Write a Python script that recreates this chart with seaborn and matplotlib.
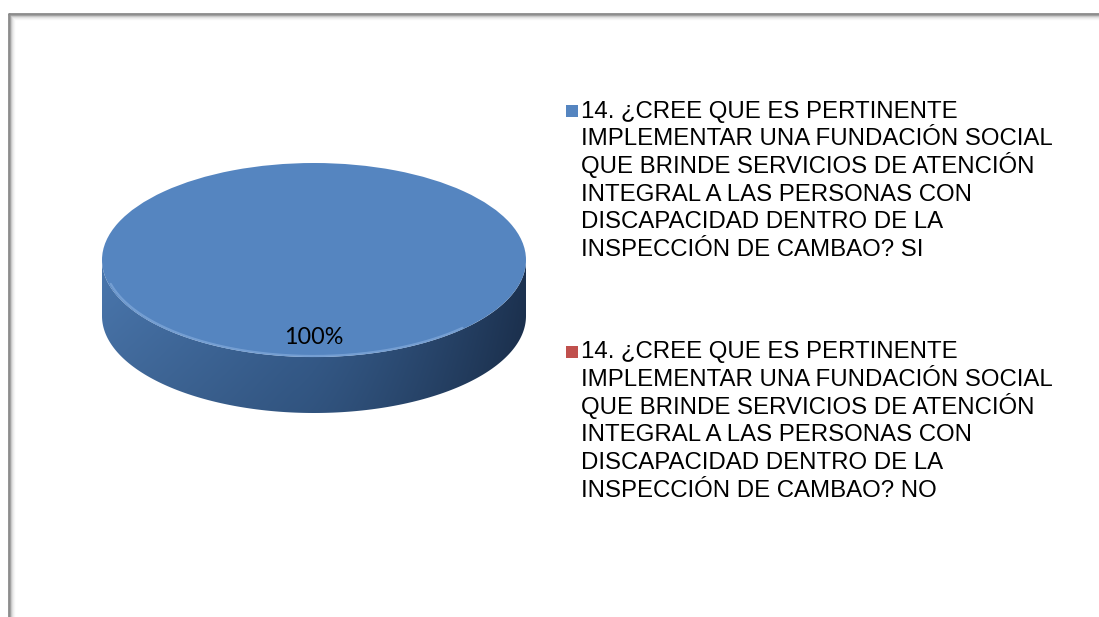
import textwrap
import numpy as np
import matplotlib
matplotlib.use("Agg")
import matplotlib.pyplot as plt
import seaborn as sns
from matplotlib.patches import Polygon, Rectangle
from matplotlib.lines import Line2D

# datos de la pregunta 14
pregunta = ("14. ¿CREE QUE ES PERTINENTE IMPLEMENTAR UNA FUNDACIÓN SOCIAL "
            "QUE BRINDE SERVICIOS DE ATENCIÓN INTEGRAL A LAS PERSONAS CON "
            "DISCAPACIDAD DENTRO DE LA INSPECCIÓN DE CAMBAO?")
respuestas = ["SI", "NO"]
valores = [100, 0]
colores = ["#5585c0", "#c0504d"]

etiquetas = [pregunta + " " + r for r in respuestas]

sns.set_theme(style="white")
plt.rcParams["font.family"] = ["Liberation Sans", "DejaVu Sans"]

W, H = 1099, 617
fig = plt.figure(figsize=(W / 100, H / 100), dpi=100)
fig.patch.set_facecolor("white")

# marco del grafico con sombra suave
for i, c in enumerate(["#8a8a8a", "#9a9a9a", "#c4c4c4", "#dcdcdc", "#ececec", "#f6f6f6"]):
    x0 = (8.5 + i) / W
    y0 = 1 - (13.5 + i) / H
    fig.add_artist(Line2D([x0, x0], [0, y0], color=c, lw=1.0 if i else 2.0))
    fig.add_artist(Line2D([x0, 1], [y0, y0], color=c, lw=1.0 if i else 2.0))

# ejes del pastel (escala: radio 1 = 212 px horizontal, 97 px vertical)
cx, cy, rx, ry = 314, 260, 212, 97
L, R, T, B = 50, 580, 140, 440
ax = fig.add_axes([L / W, 1 - B / H, (R - L) / W, (B - T) / H])

wedges, textos, autotextos = ax.pie(
    valores, colors=colores, startangle=90, counterclock=False,
    autopct=lambda p: f"{p:.0f}%" if p > 0 else "", pctdistance=0.8,
    wedgeprops=dict(linewidth=0), textprops=dict(fontsize=16.8, color="black",
                                                 family=["Lato", "DejaVu Sans"]))
for w in wedges:
    w.set_zorder(3)
for t in autotextos:
    t.set_zorder(6)

# cara lateral 3D con degradado
d = 56 / ry
th = np.linspace(np.pi, 2 * np.pi, 200)
xs = np.concatenate([np.cos(th), np.cos(th[::-1])])
ys = np.concatenate([np.sin(th), np.sin(th[::-1]) - d])
lado = Polygon(np.c_[xs, ys], closed=True, facecolor="none", edgecolor="none")
ax.add_patch(lado)

gx = np.linspace(0, 1, 300)
izq = np.array([0x4a, 0x77, 0xae]) / 255
med = np.array([0x3a, 0x63, 0x96]) / 255
der = np.array([0x1d, 0x33, 0x52]) / 255
fila = np.where(gx[:, None] < 0.45,
                izq + (med - izq) * (gx[:, None] / 0.45),
                med + (der - med) * ((gx[:, None] - 0.45) / 0.55) ** 1.3)
gy = np.linspace(0, 1, 60)[:, None, None]
img = fila[None, :, :] * (0.86 + 0.14 * gy)
im = ax.imshow(np.clip(img, 0, 1), extent=(-1, 1, -1 - d, 0), origin="lower",
               aspect="auto", zorder=2, interpolation="bilinear")
im.set_clip_path(lado)

# brillo suave en el borde frontal de la cara superior
tb = np.linspace(np.pi * 1.08, np.pi * 1.75, 200)
ax.plot(0.99 * np.cos(tb), 0.99 * np.sin(tb), color="#8fb4e2", lw=1.6,
        alpha=0.55, zorder=4, solid_capstyle="round")

ax.set_aspect("auto")
ax.set_xlim((L - cx) / rx, (R - cx) / rx)
ax.set_ylim(-(B - cy) / ry, (cy - T) / ry)
ax.axis("off")

# leyenda (una linea de texto por renglon, paso fijo)
base_ini = [117.7, 358.3]
paso = 27.7
for etiqueta, color, y in zip(etiquetas, colores, base_ini):
    fig.add_artist(Rectangle((566 / W, 1 - (y - 0.5) / H), 12 / W, 12 / H,
                             transform=fig.transFigure, facecolor=color,
                             edgecolor="none"))
    for k, linea in enumerate(textwrap.wrap(etiqueta, 33)):
        fig.text(581 / W, 1 - (y + k * paso) / H, linea, fontsize=17.3,
                 va="baseline", ha="left", color="black")

fig.savefig("out.png", dpi=100, facecolor="white")
